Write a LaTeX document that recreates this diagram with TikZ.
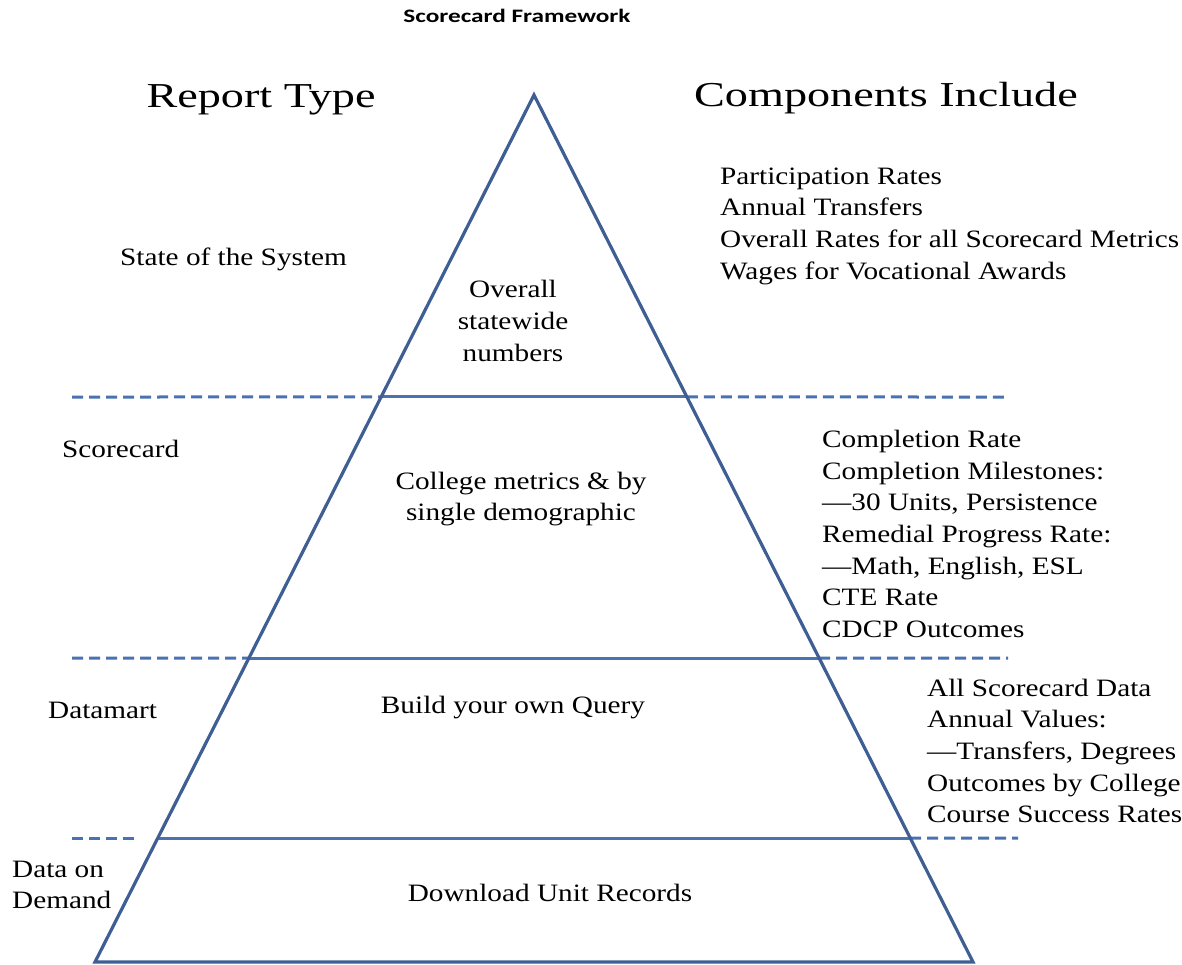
\documentclass[tikz,border=0pt]{standalone}
\usepackage{fontspec}
\setmainfont[FakeStretch=1.17]{Liberation Serif}
\newfontfamily\headfont[FakeStretch=1.32]{Liberation Serif}
\newfontfamily\titlefont[FakeStretch=1.33]{Carlito}
\usetikzlibrary{calc}
\definecolor{pyr}{RGB}{62,94,148}
\definecolor{sep}{RGB}{74,114,176}
\tikzset{
  pyrline/.style={draw=pyr,line width=3.2pt,line join=miter},
  sepline/.style={draw=sep,line width=3pt},
  sepdash/.style={draw=sep,line width=3pt,dash pattern=on 11pt off 6pt},
  heading/.style={inner sep=0pt,font=\headfont\fontsize{35}{40}\selectfont},
  body/.style={inner sep=0pt,font=\fontsize{25}{31.7}\selectfont},
}
\begin{document}
\begin{tikzpicture}[x=1pt,y=-1pt]
\useasboundingbox (0,0) rectangle (1182,964);
\coordinate (apex) at (534,95);
\coordinate (bl) at (95,962);
\coordinate (br) at (973,962);
% separators
\coordinate (l1) at ($(apex)!0.3483!(bl)$);
\coordinate (r1) at ($(apex)!0.3483!(br)$);
\coordinate (l2) at ($(apex)!0.6494!(bl)$);
\coordinate (r2) at ($(apex)!0.6494!(br)$);
\coordinate (l3) at ($(apex)!0.8570!(bl)$);
\coordinate (r3) at ($(apex)!0.8570!(br)$);
\coordinate (d1a) at (72,397);
\coordinate (d1b) at (1008,397);
\coordinate (d2a) at (72,658);
\coordinate (d2b) at (1008,658);
\coordinate (d3a) at (72,838);
\coordinate (d3e) at (140,838);
\coordinate (d3b) at (1018,838);
\draw[sepdash] (d1a) -- (l1);
\draw[sepline] (l1) -- (r1);
\draw[sepdash] (r1) -- (d1b);
\draw[sepdash] (d2a) -- (l2);
\draw[sepline] (l2) -- (r2);
\draw[sepdash] (r2) -- (d2b);
\draw[sepdash] (d3a) -- (d3e);
\draw[sepline] (l3) -- (r3);
\draw[sepdash] (r3) -- (d3b);
\draw[pyrline] (apex) -- (bl) -- (br) -- cycle;
% texts
\node[inner sep=0pt,font=\titlefont\bfseries\fontsize{19}{22}\selectfont] (title) at (517,16) {Scorecard Framework};
\node[heading] (rt) at (261,100) {Report Type};
\node[heading] (ci) at (886,98) {Components Include};
\node[body,anchor=west] (sys) at (120,259) {State of the System};
\node[body,align=center] (overall) at (513,321) {Overall\\statewide\\numbers};
\node[body,align=left,anchor=west] (c1) at (720,226) {Participation Rates\\Annual Transfers\\Overall Rates for all Scorecard Metrics\\Wages for Vocational Awards};
\node[body,anchor=west] (sc) at (62,449) {Scorecard};
\node[body,align=center] (cm) at (521,499) {College metrics \& by\\single demographic};
\node[body,align=left,anchor=west] (c2) at (822,534) {Completion Rate\\Completion Milestones:\\---30 Units, Persistence\\Remedial Progress Rate:\\---Math, English, ESL\\CTE Rate\\CDCP Outcomes};
\node[body,anchor=west] (dm) at (48,710) {Datamart};
\node[body] (q) at (513,708) {Build your own Query};
\node[body,align=left,anchor=west] (c3) at (927,751) {All Scorecard Data\\Annual Values:\\---Transfers, Degrees\\Outcomes by College\\Course Success Rates};
\node[body,align=left,anchor=west] (dd) at (12,885) {Data on\\Demand};
\node[body] (dl) at (550,893) {Download Unit Records};
\end{tikzpicture}
\end{document}
